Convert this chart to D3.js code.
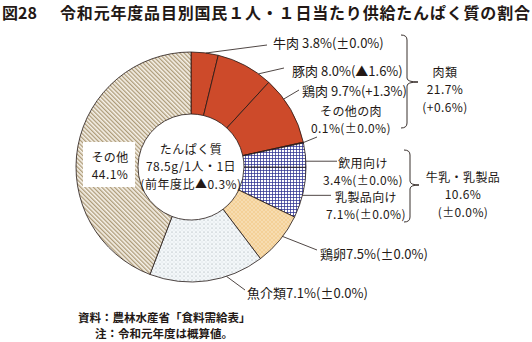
<!DOCTYPE html>
<html><head><meta charset="utf-8">
<script src="https://cdn.jsdelivr.net/npm/d3@7"></script>
<style>
body{margin:0;background:#fff}
svg{display:block}
text{font-family:"Noto Sans CJK JP","Noto Sans",sans-serif;fill:#231815}
</style>
</head><body>
<svg id="c" width="532" height="342"></svg>
<script>
// ---- data ----
const categories = ["牛肉","豚肉","鶏肉","その他の肉","飲用向け","乳製品向け","鶏卵","魚介類","その他"];
// wedge sizes as drawn in the picture (the fish wedge is drawn ~16%, although its label reads 7.1%)
const values = [3.8, 8.0, 9.7, 0.1, 3.4, 7.1, 7.5, 16.1, 44.1];
const sliceLabels = [
  ["牛肉 3.8%(±0.0%)"],
  ["豚肉 8.0%(▲1.6%)"],
  ["鶏肉 9.7%(+1.3%)"],
  ["その他の肉","0.1%(±0.0%)"],
  ["飲用向け","3.4%(±0.0%)"],
  ["乳製品向け","7.1%(±0.0%)"],
  ["鶏卵7.5%(±0.0%)"],
  ["魚介類7.1%(±0.0%)"],
  ["その他","44.1%"]
];
const groupLabels = [["肉類","21.7%","(+0.6%)"],["牛乳・乳製品","10.6%","(±0.0%)"]];
const centerLines = ["たんぱく質","78.5g/1人・1日","(前年度比▲0.3%)"];
const fillKeys = ["meat","meat","meat","meat","milk","milk","egg","fish","other"];
const titleNo = "図28";
const titleText = "令和元年度品目別国民１人・１日当たり供給たんぱく質の割合";
const notes = ["資料：農林水産省「食料需給表」","注：令和元年度は概算値。"];

// ---- layout ----
const svg = d3.select("#c");
const ink = "#231815";
const cx = 191, cy = 167, R = 115, R0 = 53;

const defs = svg.append("defs");
let p = defs.append("pattern").attr("id","milk").attr("patternUnits","userSpaceOnUse").attr("width",3).attr("height",3);
p.append("rect").attr("width",3).attr("height",3).attr("fill","#ffffff");
p.append("path").attr("d","M0,0.5H3M0.5,0V3").attr("stroke","#2e3192").attr("stroke-width",0.75);
p = defs.append("pattern").attr("id","egg").attr("patternUnits","userSpaceOnUse").attr("width",4).attr("height",4);
p.append("rect").attr("width",4).attr("height",4).attr("fill","#f4d198");
p.append("circle").attr("cx",1).attr("cy",1).attr("r",0.8).attr("fill","#fbebcf");
p.append("circle").attr("cx",3).attr("cy",3).attr("r",0.8).attr("fill","#fbebcf");
p = defs.append("pattern").attr("id","fish").attr("patternUnits","userSpaceOnUse").attr("width",4).attr("height",4);
p.append("rect").attr("width",4).attr("height",4).attr("fill","#f3f7f9");
p.append("circle").attr("cx",1).attr("cy",1).attr("r",0.55).attr("fill","#8f9ba4");
p.append("circle").attr("cx",3).attr("cy",3).attr("r",0.45).attr("fill","#b4bec5");
p = defs.append("pattern").attr("id","other").attr("patternUnits","userSpaceOnUse").attr("width",3).attr("height",3).attr("patternTransform","rotate(-45)");
p.append("rect").attr("width",3).attr("height",3).attr("fill","#f7f2e9");
p.append("rect").attr("width",1.3).attr("height",3).attr("fill","#ad9b78");

const fillOf = {meat:"#cd4a2a", milk:"url(#milk)", egg:"url(#egg)", fish:"url(#fish)", other:"url(#other)"};

const pie = d3.pie().sort(null).value(d => d);
const arcs = pie(values);
const arc = d3.arc().innerRadius(R0).outerRadius(R);
const g = svg.append("g").attr("transform",`translate(${cx},${cy})`);
g.selectAll("path.s").data(arcs).join("path").attr("class","s")
  .attr("d",arc).attr("fill",(d,i)=>fillOf[fillKeys[i]])
  .attr("stroke",ink).attr("stroke-width",0.8).attr("stroke-linejoin","round");

// title
svg.append("text").attr("x",2).attr("y",11.5).attr("dominant-baseline","central")
  .attr("font-size",16).attr("font-weight","bold").text(titleNo);
svg.append("text").attr("x",60).attr("y",11.5).attr("dominant-baseline","central")
  .attr("font-size",16).attr("font-weight","bold")
  .attr("textLength",470).attr("lengthAdjust","spacing").text(titleText);

// center text
centerLines.forEach((s,i)=>{
  svg.append("text").attr("x",cx).attr("y",148+i*17.5).attr("text-anchor","middle")
    .attr("dominant-baseline","central").attr("font-size",12).attr("letter-spacing",0.5).text(s);
});

const lay = [
  {t:.55, end:[267,45], x:273, y:42, a:"start", lh:0},
  {t:.77, end:[284,68], x:292, y:70, a:"start", lh:0},
  {t:.32, end:[299,90], x:302, y:90, a:"start", lh:0},
  {t:.5,  end:[317,137], x:351, y:110, a:"middle", lh:17.5},
  {t:.75, end:[337,null], x:363, y:162, a:"middle", lh:17.5},
  {t:.55, end:[331,null], x:366, y:196, a:"middle", lh:17.5},
  {t:.42, end:[317,250], x:320, y:253, a:"start", lh:0},
  {t:.33, end:[245,290], x:247, y:292, a:"start", lh:0},
  {t:null, x:110, y:156, a:"middle", lh:17.5, box:[83,142,52,45]}
];
lay.forEach((L,i)=>{
  const d = arcs[i];
  if (L.box) {
    svg.append("rect").attr("x",L.box[0]).attr("y",L.box[1]).attr("width",L.box[2]).attr("height",L.box[3]).attr("fill","#fff");
  }
  if (L.t !== null) {
    const ang = d.startAngle + L.t*(d.endAngle - d.startAngle);
    const sx = cx + R*Math.sin(ang), sy = cy - R*Math.cos(ang);
    const ex = L.end[0], ey = L.end[1] === null ? sy : L.end[1];
    svg.append("line").attr("x1",sx).attr("y1",sy).attr("x2",ex).attr("y2",ey)
      .attr("stroke",ink).attr("stroke-width",0.8);
  }
  const multi = sliceLabels[i].length > 1;
  sliceLabels[i].forEach((s,k)=>{
    svg.append("text").attr("x",L.x).attr("y",L.y+k*L.lh).attr("text-anchor",L.a)
      .attr("dominant-baseline","central")
      .attr("font-size",multi?12:13).attr("letter-spacing",multi?0.4:0).text(s);
  });
});

function brace(x0,x1,x2,top,bot,mid){
  return `M${x0},${top}Q${x1},${top} ${x1},${top+5}L${x1},${mid-4}Q${x1},${mid} ${x2},${mid}`+
         `Q${x1},${mid} ${x1},${mid+4}L${x1},${bot-5}Q${x1},${bot} ${x0},${bot}`;
}
svg.append("path").attr("d",brace(401,407,418,35,128,82)).attr("fill","none").attr("stroke",ink).attr("stroke-width",0.9);
svg.append("path").attr("d",brace(404,410,419,150,222,185)).attr("fill","none").attr("stroke",ink).attr("stroke-width",0.9);
const gpos = [{x:445,y:71},{x:463,y:176}];
groupLabels.forEach((lines,j)=>{
  lines.forEach((s,k)=>{
    svg.append("text").attr("x",gpos[j].x).attr("y",gpos[j].y+k*17.5).attr("text-anchor","middle")
      .attr("dominant-baseline","central").attr("font-size",12).attr("letter-spacing",0.4).text(s);
  });
});

svg.append("text").attr("x",78).attr("y",317).attr("dominant-baseline","central")
  .attr("font-size",11.5).attr("font-weight","bold").text(notes[0]);
svg.append("text").attr("x",95).attr("y",333).attr("dominant-baseline","central")
  .attr("font-size",11.5).attr("font-weight","bold").text(notes[1]);
</script>
</body></html>
